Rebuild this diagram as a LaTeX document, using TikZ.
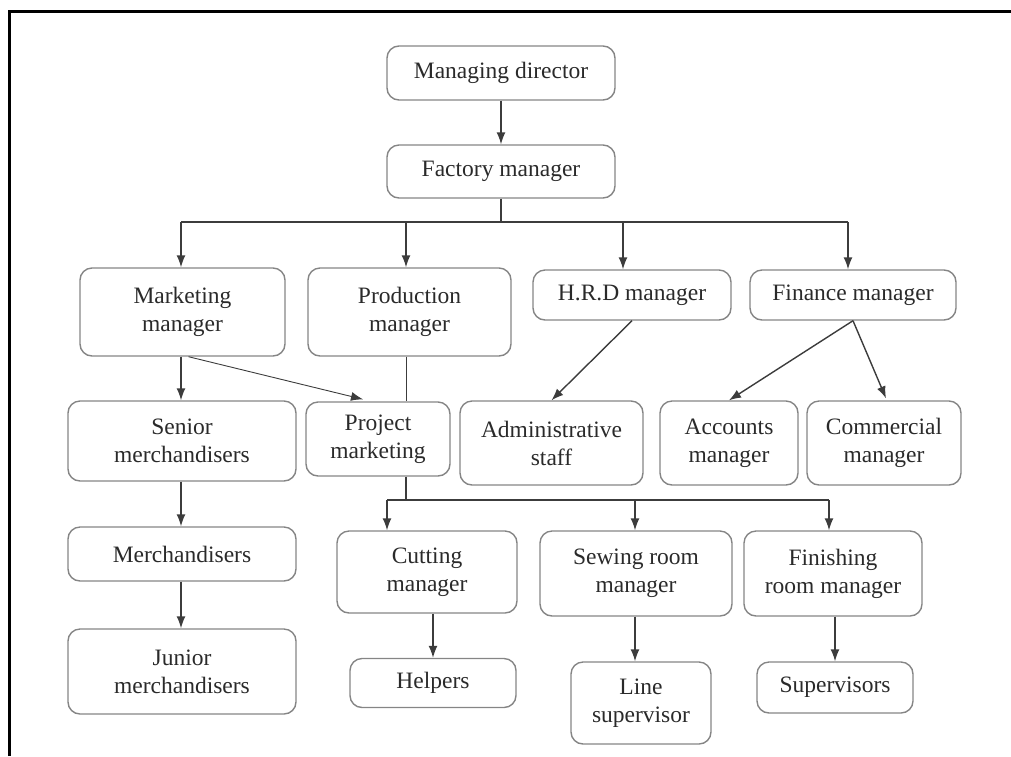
\documentclass[tikz,border=0pt]{standalone}
\usepackage{fontspec}
\setmainfont{Liberation Serif}
\usetikzlibrary{calc,arrows.meta}

\definecolor{boxgray}{HTML}{858585}
\definecolor{linegray}{HTML}{3C3C3C}
\definecolor{textgray}{HTML}{2A2A2A}

\begin{document}
\begin{tikzpicture}[x=1pt, y=-1pt, >={Latex[length=12pt,width=9pt]},
  block/.style={draw=boxgray, line width=1.4pt, rounded corners=12pt, align=center,
    text=textgray, inner sep=0pt, font=\fontsize{23.5}{28}\selectfont},
  link/.style={draw=linegray, line width=1.4pt}]

  \useasboundingbox (0,0) rectangle (1011,756);
  \draw[line width=3pt] (9,756) -- (9,11.5) -- (1011,11.5);

  % Top
  \node[block, minimum width=228pt, minimum height=54pt] (MD) at (501,73) {Managing director};
  \node[block, minimum width=228pt, minimum height=53pt] (FM) at (501,171.5) {Factory manager};

  % Managers
  \node[block, minimum width=205pt, minimum height=88pt] (MM) at (182.5,312) {Marketing\\manager};
  \node[block, minimum width=203pt, minimum height=88pt] (PM) at (409.5,312) {Production\\manager};
  \node[block, minimum width=198pt, minimum height=50pt] (HRD) at (632,295) {H.R.D manager};
  \node[block, minimum width=206pt, minimum height=50pt] (FIN) at (853,295) {Finance manager};

  % Second row
  \node[block, minimum width=228pt, minimum height=80pt] (SM) at (182,441) {Senior\\merchandisers};
  \node[block, minimum width=144pt, minimum height=74pt] (PJ) at (378,439) {Project\\marketing};
  \node[block, minimum width=183pt, minimum height=84pt] (AS) at (551.5,443) {Administrative\\staff};
  \node[block, minimum width=138pt, minimum height=84pt] (AC) at (729,443) {Accounts\\manager};
  \node[block, minimum width=154pt, minimum height=84pt] (CM) at (884,443) {Commercial\\manager};

  % Third row
  \node[block, minimum width=228pt, minimum height=54pt] (ME) at (182,554) {Merchandisers};
  \node[block, minimum width=180pt, minimum height=82pt] (CU) at (427,572) {Cutting\\manager};
  \node[block, minimum width=192pt, minimum height=85pt] (SW) at (636,573.5) {Sewing room\\manager};
  \node[block, minimum width=178pt, minimum height=85pt] (FI) at (833,573.5) {Finishing\\room manager};

  % Bottom row
  \node[block, minimum width=228pt, minimum height=85pt] (JM) at (182,671.5) {Junior\\merchandisers};
  \node[block, minimum width=166pt, minimum height=49pt] (HE) at (433,683) {Helpers};
  \node[block, minimum width=140pt, minimum height=82pt] (LS) at (641,703) {Line\\supervisor};
  \node[block, minimum width=156pt, minimum height=51pt] (SU) at (835,687.5) {Supervisors};

  % Bus points
  \coordinate (T) at (501,222);
  \coordinate (T1) at (181,222);
  \coordinate (T2) at (406,222);
  \coordinate (T3) at (623,222);
  \coordinate (T4) at (848,222);
  \coordinate (P) at (406,500);
  \coordinate (P1) at (387,500);
  \coordinate (P2) at (635,500);
  \coordinate (P3) at (829,500);

  % Upper arrows
  \draw[link, ->] (MD) -- (FM);
  \draw[link] (FM.south) -- (T);
  \draw[link] (T1) -- (T4);
  \draw[link, ->] (T1) -- (MM.north -| T1);
  \draw[link, ->] (T2) -- (PM.north -| T2);
  \draw[link, ->] (T3) -- (HRD.north -| T3);
  \draw[link, ->] (T4) -- (FIN.north -| T4);

  % Marketing side
  \draw[link, ->] (MM.south -| T1) -- (SM.north -| T1);
  \draw[link, ->, line width=0.9pt] ($(MM.south)+(6,0)$) -- ($(PJ.north)+(-15,-2)$);
  \draw[link, ->] (SM.south -| T1) -- (ME.north -| T1);
  \draw[link, ->] (ME.south -| T1) -- (JM.north -| T1);

  % HRD and finance
  \draw[link, ->] (HRD.south) -- (AS.north);
  \draw[link, ->] (FIN.south) -- (AC.north);
  \draw[link, ->] (FIN.south) -- ($(CM.north)+(2,-2)$);

  % Production side
  \draw[link, line width=0.9pt] (PM.south -| P) -- (PJ.north -| P);
  \draw[link] (PJ.south -| P) -- (P);
  \draw[link] (P1) -- (P3);
  \draw[link, ->] (P1) -- (CU.north -| P1);
  \draw[link, ->] (P2) -- (SW.north -| P2);
  \draw[link, ->] (P3) -- (FI.north -| P3);
  \draw[link, ->] (HE.north |- CU.south) -- (HE.north);
  \draw[link, ->] (SW.south -| P2) -- (LS.north -| P2);
  \draw[link, ->] (SU.north |- FI.south) -- (SU.north);

\end{tikzpicture}
\end{document}
